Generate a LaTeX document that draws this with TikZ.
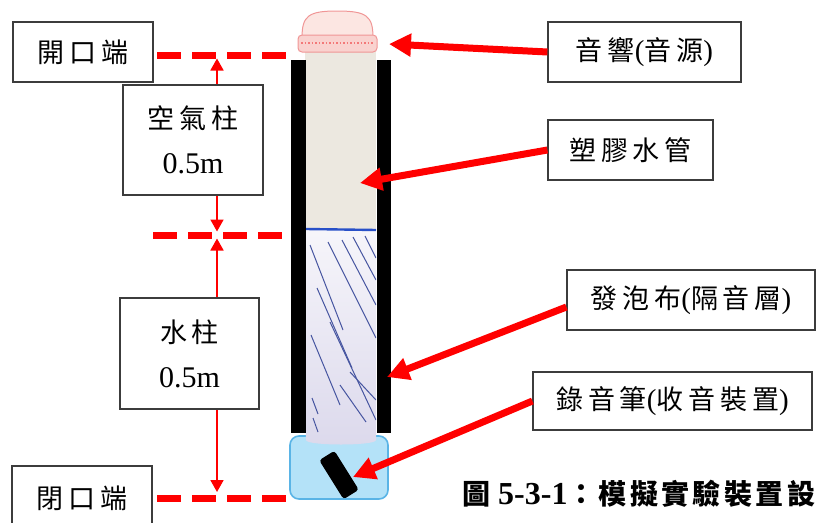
\documentclass[tikz,border=0pt]{standalone}
\usepackage{fontspec}
\setmainfont{Liberation Serif}
\newfontfamily\cjk[LetterSpace=18]{Noto Sans CJK TC}
\newfontfamily\capcjk[LetterSpace=12]{Noto Sans CJK TC}
\usetikzlibrary{arrows.meta}

\definecolor{arrowred}{RGB}{255,0,0}
\definecolor{boxline}{RGB}{60,60,60}
\definecolor{pipebeige}{RGB}{236,232,224}
\definecolor{waterlav}{RGB}{220,217,236}
\definecolor{waterline}{RGB}{40,80,200}
\definecolor{hatchblue}{RGB}{70,85,160}
\definecolor{capfill}{RGB}{252,230,226}
\definecolor{capedge}{RGB}{240,150,150}
\definecolor{basefill}{RGB}{180,226,248}
\definecolor{baseedge}{RGB}{90,180,230}

\newcommand{\paren}[1]{{\rmfamily\fontsize{29}{45}\selectfont #1}}

\tikzset{
  labelbox/.style={draw=boxline, line width=1.2pt, fill=white, inner sep=0pt,
    align=center, font=\fontsize{27}{45}\selectfont},
  callout/.style={arrowred, line width=7pt, -{Triangle[length=22pt,width=22pt]}},
  dimarrow/.style={arrowred, line width=1.8pt, -{Triangle[length=12pt,width=13pt]}},
  endline/.style={arrowred, line width=7pt, dash pattern=on 24pt off 11pt},
  hatchline/.style={hatchblue, line width=1pt}
}

\begin{document}
\begin{tikzpicture}[x=1pt,y=-1pt]
\useasboundingbox (0,0) rectangle (819,522);

% ---- reference levels of the column ----
\draw[endline] (157,55) -- (292,55);
\draw[endline] (153,235) -- (292,235);
\draw[endline] (157,498) -- (292,498);

% ---- base holding the recorder ----
\filldraw[fill=basefill, draw=baseedge, line width=1.6pt, rounded corners=9pt]
  (290,436) rectangle (388,499);

% ---- pipe: air part and water part ----
\fill[pipebeige] (305,45) rectangle (376,229);
\shade[top color=white!75!waterlav, bottom color=waterlav]
  (305,229) -- (376,229) -- (376,440) .. controls (376,446) and (306,446) .. (306,440) -- cycle;
\begin{scope}
  \clip (306,233) rectangle (376,442);
  \foreach \xa/\ya/\xb/\yb in {
    310/245/343/330, 328/242/376/338, 342/240/376/305, 353/237/376/280,
    365/236/376/258, 317/288/352/368, 311/335/340/405, 330/322/376/420,
    312/398/318/414, 313/418/318/432, 340/385/366/422, 350/372/376/400}
    \draw[hatchline] (\xa,\ya) -- (\xb,\yb);
\end{scope}
\draw[waterline, line width=2.4pt] (306,229) -- (376,230);

% ---- foam wrapping ----
\fill[black] (291,60) rectangle (306,433);
\fill[black] (377,60) rectangle (391,433);

% ---- speaker on top ----
\filldraw[fill=capfill, draw=capedge, line width=1pt]
  (302,38) .. controls (302,16) and (308,11) .. (337,11)
  .. controls (367,11) and (373,16) .. (373,38) -- cycle;
\filldraw[fill=capfill!75!capedge, draw=capedge, line width=1pt, rounded corners=4pt]
  (298,35) rectangle (377,52);
\draw[capedge!80!red, line width=1.4pt, dash pattern=on 1.5pt off 2pt] (301,43) -- (374,43);

% ---- recorder ----
\node[fill=black, rounded corners=3pt, minimum width=46pt, minimum height=18pt,
  inner sep=0pt, rotate=-58] (pen) at (339,475) {};

% ---- labels ----
\node[labelbox, minimum width=140pt, minimum height=60pt] (open) at (83,52) {\cjk 開口端};
\node[labelbox, minimum width=140pt, minimum height=110pt] (air) at (193,140)
  {{\cjk 空氣柱}\\{\fontsize{30}{45}\selectfont 0.5m}};
\node[labelbox, minimum width=139pt, minimum height=111pt] (water) at (189.5,353.5)
  {{\cjk 水柱}\\{\fontsize{30}{45}\selectfont 0.5m}};
\node[labelbox, minimum width=140pt, minimum height=64pt] (closed) at (82,498) {\cjk 閉口端};

\node[labelbox, minimum width=193pt, minimum height=60pt] (src) at (644.5,52)
  {{\cjk 音響}\paren{(}{\cjk 音源}\paren{)}};
\node[labelbox, minimum width=165pt, minimum height=60pt] (pipe) at (630.5,150) {\cjk 塑膠水管};
\node[labelbox, minimum width=248pt, minimum height=60pt] (foam) at (691,300)
  {{\cjk 發泡布}\paren{(}{\cjk 隔音層}\paren{)}};
\node[labelbox, minimum width=279pt, minimum height=58pt] (rec) at (672.5,401)
  {{\cjk 錄音筆}\paren{(}{\cjk 收音裝置}\paren{)}};

% ---- dimension arrows ----
\coordinate (dtop) at (217,58.5);
\coordinate (dmidA) at (217,231.5);
\coordinate (dmidB) at (217,238.5);
\coordinate (dbot) at (217,492);
\draw[dimarrow] (air.north -| dtop) -- (dtop);
\draw[dimarrow] (air.south -| dtop) -- (dmidA);
\draw[dimarrow] (water.north -| dtop) -- (dmidB);
\draw[dimarrow] (water.south -| dtop) -- (dbot);

% ---- callout arrows ----
\coordinate (srctip) at (389,44);
\coordinate (pipetip) at (360,183);
\coordinate (foamtip) at (387,377);
\coordinate (rectip) at (353,477);
\draw[callout] (src.west) -- (srctip);
\draw[callout] (pipe.west) -- (pipetip);
\draw[callout] ([yshift=-7pt]foam.west) -- (foamtip);
\draw[callout] (rec.west) -- (rectip);

% ---- caption ----
\node[anchor=west, inner sep=0pt] (caption) at (462,494)
  {{\capcjk\bfseries\fontsize{28}{30}\selectfont 圖}\hspace{8pt}{\bfseries\fontsize{32}{36}\selectfont 5-3-1}{\capcjk\bfseries\fontsize{28}{30}\selectfont ：模擬實驗裝置設}};
\end{tikzpicture}
\end{document}
